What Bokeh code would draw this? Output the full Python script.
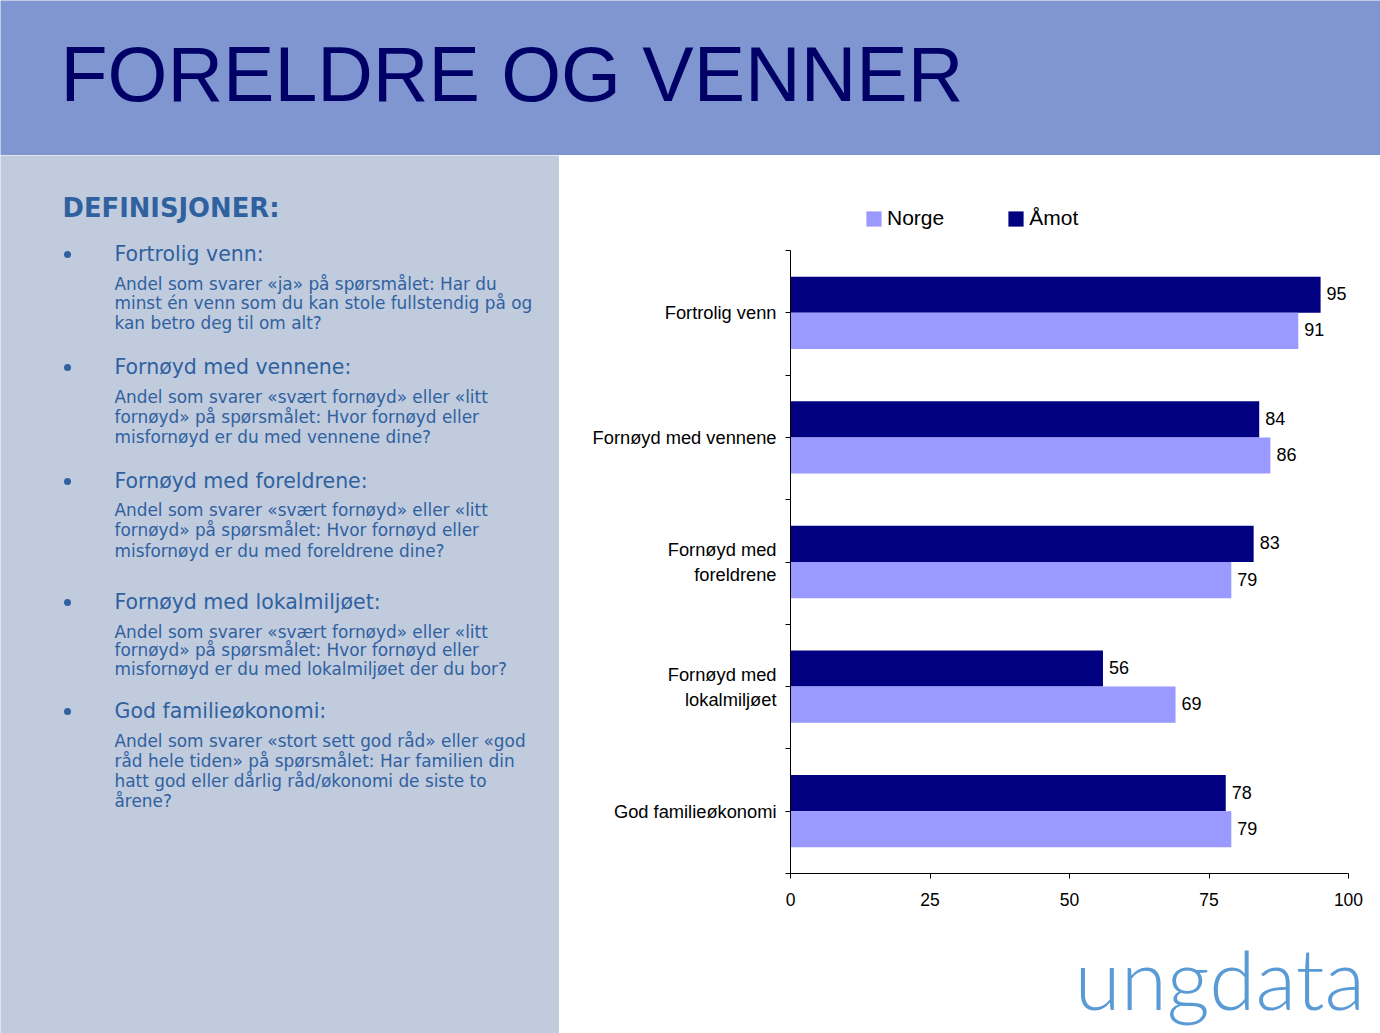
from bokeh.plotting import figure
from bokeh.models import (Range1d, FactorRange, LinearAxis, CategoricalAxis, FixedTicker,
                          Legend, LegendItem, LabelSet, ColumnDataSource, CustomJSTickFormatter)
from bokeh.transform import dodge
from bokeh.layouts import column, row
from bokeh.core.properties import value
from bokeh.embed import file_html
from bokeh.resources import INLINE

# ---------------- data ----------------
categories = ["Fortrolig venn", "Fornøyd med vennene", "Fornøyd med\nforeldrene",
              "Fornøyd med\nlokalmiljøet", "God familieøkonomi"]
amot = [95, 84, 83, 56, 78]
norge = [91, 86, 79, 69, 79]
series = ["Norge", "Åmot"]
x_ticks = [0, 25, 50, 75, 100]

title_text = "FORELDRE OG VENNER"
def_heading = "DEFINISJONER:"
def_titles = ["Fortrolig venn:", "Fornøyd med vennene:", "Fornøyd med foreldrene:",
              "Fornøyd med lokalmiljøet:", "God familieøkonomi:"]
def_bodies = [
    ["Andel som svarer «ja» på spørsmålet: Har du",
     "minst én venn som du kan stole fullstendig på og",
     "kan betro deg til om alt?"],
    ["Andel som svarer «svært fornøyd» eller «litt",
     "fornøyd» på spørsmålet: Hvor fornøyd eller",
     "misfornøyd er du med vennene dine?"],
    ["Andel som svarer «svært fornøyd» eller «litt",
     "fornøyd» på spørsmålet: Hvor fornøyd eller",
     "misfornøyd er du med foreldrene dine?"],
    ["Andel som svarer «svært fornøyd» eller «litt",
     "fornøyd» på spørsmålet: Hvor fornøyd eller",
     "misfornøyd er du med lokalmiljøet der du bor?"],
    ["Andel som svarer «stort sett god råd» eller «god",
     "råd hele tiden» på spørsmålet: Har familien din",
     "hatt god eller dårlig råd/økonomi de siste to",
     "årene?"],
]
logo_text = "ungdata"

# ---------------- styles ----------------
HEADER_BG = "#7F96D1"
LEFT_BG = "#C0CBDE"
LEFT_TXT = "#30619F"
DARK = "#000080"
LIGHT = "#9999FF"
ARIAL = "Liberation Sans"
TAHOMA = "DejaVu Sans"


def blank(w, h, bg, xr, yr):
    f = figure(width=w, height=h, x_range=xr, y_range=yr, output_backend="svg",
               toolbar_location=None, min_border=0, x_axis_location=None,
               y_axis_location=None, background_fill_color=bg, border_fill_color=bg,
               outline_line_color=None, frame_align=False)
    f.grid.visible = False
    return f


# ---------------- header ----------------
header = blank(1380, 155, HEADER_BG, Range1d(0, 1380), Range1d(155, 0))
header.text(x=[60], y=[73], text=[title_text], text_font=value(ARIAL),
            text_font_size="77px", text_color="#000066", text_baseline="middle")

# ---------------- left panel ----------------
left = blank(559, 878, LEFT_BG, Range1d(0, 559), Range1d(1033, 155))
left.text(x=[62], y=[207], text=[def_heading], text_font=value(TAHOMA),
          text_font_size="25.8px", text_font_style="bold", text_color=LEFT_TXT,
          text_baseline="middle")
head_y = [253, 366, 480, 601, 710]
body_y0 = [283, 396, 509, 631, 740]
body_dy = [19.5, 20, 20.5, 18.5, 20.3]
left.scatter(x=[67] * len(head_y), y=[y + 1 for y in head_y], size=7,
             color=LEFT_TXT, line_color=None)
left.text(x=[114] * len(def_titles), y=head_y, text=def_titles, text_font=value(TAHOMA),
          text_font_size="20.5px", text_color=LEFT_TXT, text_baseline="middle")
bx, by, bt = [], [], []
for i, lines in enumerate(def_bodies):
    for j, ln in enumerate(lines):
        bx.append(114)
        by.append(body_y0[i] + j * body_dy[i])
        bt.append(ln)
left.text(x=bx, y=by, text=bt, text_font=value(TAHOMA), text_font_size="16.9px",
          text_color=LEFT_TXT, text_baseline="middle")

# ---------------- legend strip (proxy renderers outside the visible range) ----------------
leg_fig = blank(821, 90, "white", Range1d(0, 1), Range1d(0, 1))
leg_norge = leg_fig.hbar(y=[-5], left=[0], right=[0], height=0.5, fill_color=LIGHT,
                         line_color=None)
leg_amot = leg_fig.hbar(y=[-5], left=[0], right=[0], height=0.5, fill_color=DARK,
                        line_color=None)
legend = Legend(items=[LegendItem(label=series[0], renderers=[leg_norge]),
                       LegendItem(label=series[1], renderers=[leg_amot])],
                orientation="horizontal", location=(305, 15),
                label_text_font=ARIAL, label_text_font_size="21px",
                label_text_color="black",
                glyph_width=19, glyph_height=19, label_standoff=4, spacing=62,
                padding=0, margin=0, border_line_color=None, background_fill_alpha=0,
                label_height=20)
leg_fig.add_layout(legend)

# ---------------- chart ----------------
chart = figure(width=821, height=705, x_range=Range1d(0, 100),
               y_range=FactorRange(factors=categories[::-1]),
               output_backend="svg", toolbar_location=None, y_axis_location=None,
               min_border_left=231, min_border_right=32, min_border_top=5,
               min_border_bottom=77, outline_line_color=None, frame_align=False,
               background_fill_color="white", border_fill_color="white")
chart.grid.visible = False

src = ColumnDataSource(dict(cat=categories, amot=amot, norge=norge,
                            amot_lbl=[str(v) for v in amot],
                            norge_lbl=[str(v) for v in norge]))
y_amot = dodge("cat", 0.145, range=chart.y_range)
y_norge = dodge("cat", -0.145, range=chart.y_range)
r_amot = chart.hbar(y=y_amot, left=0, right="amot", height=0.29, fill_color=DARK,
                    line_color=None, source=src)
r_norge = chart.hbar(y=y_norge, left=0, right="norge", height=0.29, fill_color=LIGHT,
                     line_color=None, source=src)

for col, yy in (("amot", y_amot), ("norge", y_norge)):
    chart.add_layout(LabelSet(x=col, y=yy, text=col + "_lbl", source=src, x_offset=6,
                              y_offset=1, text_baseline="middle", text_font=value(ARIAL),
                              text_font_size="18px", text_color="black"))

xa = chart.xaxis[0]
xa.ticker = FixedTicker(ticks=x_ticks)
xa.major_tick_out = 5
xa.major_tick_in = 0
xa.minor_tick_line_color = None
xa.axis_line_color = "black"
xa.major_tick_line_color = "black"
xa.major_label_text_font = ARIAL
xa.major_label_text_font_size = "17.5px"
xa.major_label_text_color = "black"
xa.major_label_standoff = 14

# tick marks at the category boundaries and between the two bars of each category
num_axis = LinearAxis(ticker=FixedTicker(ticks=list(range(len(categories) + 1)),
                                         minor_ticks=[i + 0.5 for i in range(len(categories))]),
                      formatter=CustomJSTickFormatter(code="return ''"),
                      major_tick_out=5, major_tick_in=0, minor_tick_out=5, minor_tick_in=0,
                      major_tick_line_color="black", minor_tick_line_color="black",
                      axis_line_color="black", major_label_standoff=0)
chart.add_layout(num_axis, "left")
cat_axis = CategoricalAxis(axis_line_color=None, major_tick_line_color=None,
                           major_tick_out=0, major_tick_in=0, major_label_standoff=9,
                           major_label_text_font=ARIAL, major_label_text_font_size="18.3px",
                           major_label_text_color="black")
chart.add_layout(cat_axis, "left")

# ---------------- logo ----------------
logo = blank(821, 83, "white", Range1d(559, 1380), Range1d(1033, 950))
logo.text(x=[1074], y=[977], text=[logo_text], text_font=value("Lato Light, Lato"),
          text_font_size="84px", text_color="#5B9BD5", text_baseline="middle")

layout = column(header,
                row(left, column(leg_fig, chart, logo, spacing=0), spacing=0),
                spacing=0)

open("out.html", "w").write(file_html(layout, INLINE))
